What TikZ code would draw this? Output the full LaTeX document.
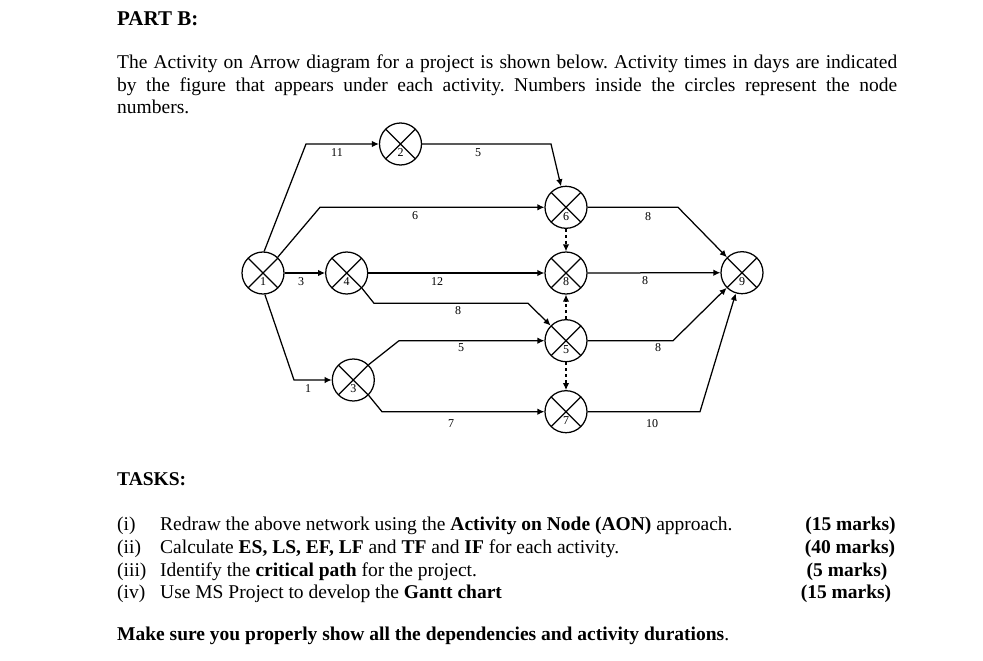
\documentclass[tikz,border=0pt]{standalone}
\usepackage{fontspec}
\setmainfont{Liberation Serif}
\usetikzlibrary{arrows.meta,positioning}
\frenchspacing

\begin{document}
\begin{tikzpicture}[x=1pt,y=-1pt,
 evt/.style={circle,draw,line width=1.25pt,minimum size=42pt,inner sep=0pt,
   path picture={\draw[line width=1.25pt] (path picture bounding box.north west) -- (path picture bounding box.south east)
     (path picture bounding box.north east) -- (path picture bounding box.south west);},
   label={[font=\fontsize{12}{13}\selectfont,inner sep=0pt,yshift=-9pt]center:#1}},
 act/.style={line width=1.25pt,-{Latex[length=7pt,width=6.5pt]}},
 dummy/.style={act,dash pattern=on 3pt off 3pt},
 dur/.style={font=\fontsize{12}{13}\selectfont,inner sep=0pt},
 body/.style={font=\fontsize{19.5}{22.3}\selectfont,inner sep=0pt,anchor=base west},
 heading/.style={font=\bfseries\fontsize{19.5}{22.3}\selectfont,inner sep=0pt,anchor=base west},
 scoretxt/.style={font=\bfseries\fontsize{19.5}{22.3}\selectfont,inner sep=0pt,anchor=base}]
\useasboundingbox (0,0) rectangle (983,661);

% header text
\node[heading,font=\bfseries\fontsize{21}{24}\selectfont] (title) at (117,25.7) {PART B:};
\node[body,text width=780pt,align=justify] (intro) at (117,69) {The Activity on Arrow diagram for a project is shown below. Activity times in days are indicated\linebreak by the figure that appears under each activity. Numbers inside the circles represent the node\linebreak numbers.};

% events
\node[evt=1] (n1) at (263,273) {};
\node[evt=2] (n2) at (400.5,144) {};
\node[evt=4] (n4) at (346.7,273) {};
\node[evt=3] (n3) at (353.3,380) {};
\node[evt=6] (n6) at (566,207.3) {};
\node[evt=8] (n8) at (566,273) {};
\node[evt=5] (n5) at (566,340.7) {};
\node[evt=7] (n7) at (566,411.7) {};
\node[evt=9] (n9) at (742,272.7) {};

% activities
\draw[act] (n1.87) -- (306,144) -- (n2);
\draw[act] (n2) -- (551,144) -- (n6);
\draw[act] (n1.47) -- (320,207.3) -- (n6);
\draw[act] (n1) -- (n4);
\draw[act] (n4) -- (n8);
\draw[act] (n4.south east) -- (374,303.3) -- (528,303.3) -- (n5);
\draw[act] (n1.-85) -- (294,380) -- (n3);
\draw[act] (n3.north east) -- (399,340.7) -- (n5);
\draw[act] (n3.south east) -- (382,411.7) -- (n7);
\draw[act] (n6) -- (678,207.3) -- (n9);
\draw[act] (n8) -- (n9);
\draw[act] (n5) -- (673,340.7) -- (n9);
\draw[act] (n7) -- (700,411.7) -- (n9);
\draw[dummy] (n6) -- (n8);
\draw[dummy] (n5) -- (n8);
\draw[dummy] (n5) -- (n7);

% durations
\node[dur] (d12) at (337,153) {11};
\node[dur] (d26) at (478,153) {5};
\node[dur] (d16) at (415,216) {6};
\node[dur] (d14) at (301,282) {3};
\node[dur] (d48) at (437,282) {12};
\node[dur] (d45) at (458,311) {8};
\node[dur] (d13) at (308,389) {1};
\node[dur] (d35) at (461,348) {5};
\node[dur] (d37) at (451,424) {7};
\node[dur] (d69) at (648,217) {8};
\node[dur] (d89) at (645,281) {8};
\node[dur] (d59) at (658,348) {8};
\node[dur] (d79) at (652,424) {10};

% tasks
\node[heading] (tasks) at (117,485) {TASKS:};
\node[body] (t1) at (117,530) {\makebox[43pt][l]{(i)}Redraw the above network using the \textbf{Activity on Node (AON)} approach.};
\node[body] (t2) at (117,553.3) {\makebox[43pt][l]{(ii)}Calculate \textbf{ES, LS, EF, LF} and \textbf{TF} and \textbf{IF} for each activity.};
\node[body] (t3) at (117,576) {\makebox[43pt][l]{(iii)}Identify the \textbf{critical path} for the project.};
\node[body] (t4) at (117,598.5) {\makebox[43pt][l]{(iv)}Use MS Project to develop the \textbf{Gantt chart}};
\node[scoretxt] (m1) at (850.5,530) {(15 marks)};
\node[scoretxt] (m2) at (850,553.3) {(40 marks)};
\node[scoretxt] (m3) at (847,576) {(5 marks)};
\node[scoretxt] (m4) at (846,598.5) {(15 marks)};
\node[body] (note) at (117,640.7) {\textbf{Make sure you properly show all the dependencies and activity durations}.};
\end{tikzpicture}
\end{document}
